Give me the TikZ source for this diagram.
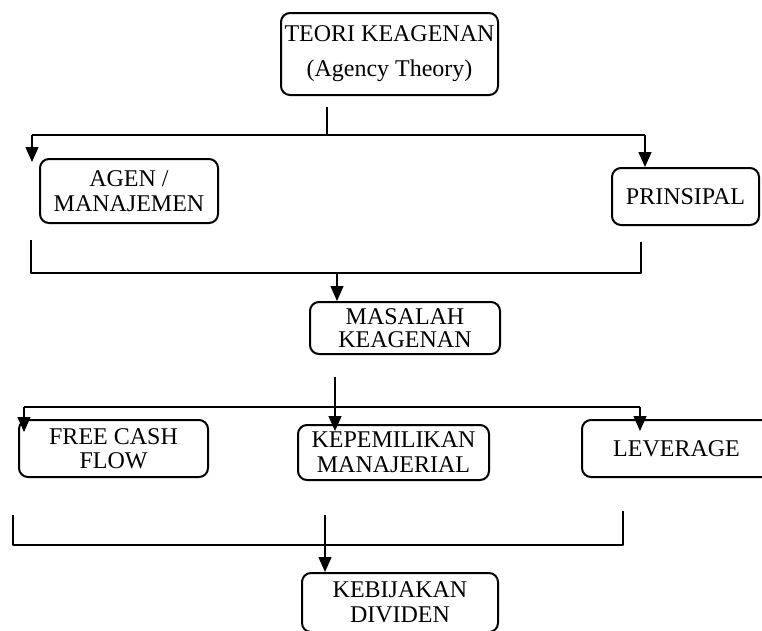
\documentclass[tikz,border=0pt]{standalone}
\usepackage{fontspec}
\setmainfont{Liberation Serif}
\usetikzlibrary{arrows.meta}

\begin{document}
\begin{tikzpicture}[
  x=1pt, y=-1pt,
  line join=round,
  kotak/.style={draw, line width=2pt, rounded corners=9pt, inner sep=0pt,
    align=center, font=\fontsize{24}{25}\selectfont},
  garis/.style={line width=1.4pt},
  panah/.style={line width=1.4pt, -{Triangle[length=15pt,width=13pt]}}
]
  \useasboundingbox (0,0) rectangle (762,630);
  \clip (0,0) rectangle (762,630);

  % Kotak
  \node[kotak, minimum width=217pt, minimum height=82pt,
    font=\fontsize{24}{35}\selectfont] (teori) at (389.5,54)
    {TEORI KEAGENAN\\(Agency Theory)};
  \node[kotak, minimum width=178pt, minimum height=64pt] (agen) at (129,191)
    {AGEN /\\MANAJEMEN};
  \node[kotak, minimum width=147pt, minimum height=57pt] (prinsipal) at (685.5,196.5)
    {PRINSIPAL};
  \node[kotak, minimum width=190pt, minimum height=52pt,
    font=\fontsize{24}{23}\selectfont] (masalah) at (405,328)
    {MASALAH\\KEAGENAN};
  \node[kotak, minimum width=189pt, minimum height=57pt,
    font=\fontsize{24}{24}\selectfont] (fcf) at (113.5,448.5)
    {FREE CASH\\FLOW};
  \node[kotak, minimum width=191pt, minimum height=55pt] (kepemilikan) at (393.5,452.5)
    {KEPEMILIKAN\\MANAJERIAL};
  \node[kotak, minimum width=189pt, minimum height=57pt] (leverage) at (676.5,448.5)
    {LEVERAGE};
  \node[kotak, minimum width=196pt, minimum height=59pt] (kebijakan) at (400,602.5)
    {KEBIJAKAN\\DIVIDEN};

  % Teori ke agen dan prinsipal
  \coordinate (t0) at (327,107);
  \coordinate (tM) at (327,135);
  \coordinate (tL) at (32,135);
  \coordinate (tR) at (645,135);
  \draw[garis] (t0) -- (tM);
  \draw[garis] (tL) -- (tR);
  \draw[panah] (tL) -- ([yshift=-4pt]tL |- agen.north);
  \draw[panah] (tR) -- (tR |- prinsipal.north);

  % Agen dan prinsipal ke masalah
  \coordinate (aL) at (31,240);
  \coordinate (aR) at (641,242);
  \coordinate (aM) at (337,273);
  \draw[garis] (aL) -- (aL |- aM) -- (aR |- aM) -- (aR);
  \draw[panah] (aM) -- (aM |- masalah.north);

  % Masalah ke tiga variabel
  \coordinate (m0) at (335,377);
  \coordinate (mL) at (24,407);
  \coordinate (mR) at (640,407);
  \draw[garis] (mL) -- (mR);
  \draw[panah] (m0) -- ([yshift=-7pt]m0 |- kepemilikan.north);
  \draw[panah] (mL) -- ([yshift=-13pt]mL |- fcf.north);
  \draw[panah] (mR) -- ([yshift=-12pt]mR |- leverage.north);

  % Variabel ke kebijakan dividen
  \coordinate (vL) at (13,515);
  \coordinate (vR) at (623,511);
  \coordinate (vM) at (325,515);
  \coordinate (vB) at (325,545);
  \draw[garis] (vL) -- (vL |- vB) -- (vR |- vB) -- (vR);
  \draw[panah] (vM) -- (vM |- kebijakan.north);
\end{tikzpicture}
\end{document}
